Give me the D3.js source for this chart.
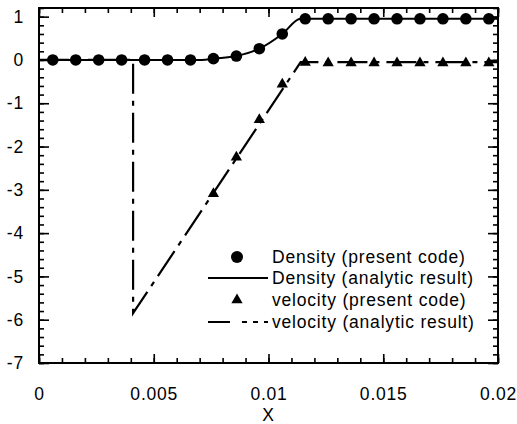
<!DOCTYPE html>
<html>
<head>
<meta charset="utf-8">
<script src="https://cdn.jsdelivr.net/npm/d3@7"></script>
<style>
html,body{margin:0;padding:0;background:#fff;}
svg text{font-family:"Liberation Sans",Arial,Helvetica,sans-serif;font-size:17.5px;letter-spacing:0.8px;fill:#000;}
</style>
</head>
<body>
<svg id="chart" width="517" height="424"></svg>
<script>
// ---- data ----
const xTicks = [0, 0.005, 0.01, 0.015, 0.02];
const xTickLabels = ["0", "0.005", "0.01", "0.015", "0.02"];
const yTicks = [1, 0, -1, -2, -3, -4, -5, -6, -7];
const yTickLabels = ["1", "0", "-1", "-2", "-3", "-4", "-5", "-6", "-7"];
const xLabel = "X";

// Density (present code)
const densX = [0.0006,0.0016,0.0026,0.0036,0.0046,0.0056,0.0066,0.0076,0.0086,0.0096,
               0.0106,0.0116,0.0126,0.0136,0.0146,0.0156,0.0166,0.0176,0.0186,0.0196];
const densY = [0,0,0,0,0,0,0,0.03,0.09,0.26,0.6,0.95,0.95,0.95,0.95,0.95,0.95,0.95,0.95,0.95];

// Density (analytic result)
const densAnX = [0, 0.0071, 0.0076, 0.0086, 0.0096, 0.0106, 0.0114, 0.02];
const densAnY = [0, 0, 0.03, 0.09, 0.26, 0.6, 0.95, 0.95];

// velocity (present code)
const velX = [0.0076,0.0086,0.0096,0.0106,0.0116,0.0126,0.0136,0.0146,0.0156,0.0166,0.0176,0.0186,0.0196];
const velY = [-3.09,-2.25,-1.38,-0.56,-0.06,-0.07,-0.07,-0.07,-0.07,-0.07,-0.07,-0.07,-0.07];

// velocity (analytic result)
const velAnX = [0, 0.0041, 0.0041, 0.0114, 0.02];
const velAnY = [0, 0, -5.85, -0.05, -0.05];

const legendLabels = ["Density (present code)", "Density (analytic result)",
                      "velocity (present code)", "velocity (analytic result)"];

// ---- layout ----
const L = 39, R = 498, T = 8, B = 363;
const svg = d3.select("#chart");
const x = d3.scaleLinear().domain([0, 0.02]).range([L, R]);
const y = d3.scaleLinear().domain([-7, 1.2]).range([B, T]);

const xMinor = d3.range(0, 21).map(i => i * 0.001);
const yMinor = d3.range(-35, 7).map(i => i * 0.2);

function styleAxis(g){
  g.select(".domain").remove();
  g.selectAll("line").attr("stroke", "#000").attr("stroke-width", 1.6);
}

// minor ticks
svg.append("g").attr("transform", `translate(0,${B})`)
  .call(d3.axisBottom(x).tickValues(xMinor).tickSize(-5).tickFormat(""))
  .call(styleAxis);
svg.append("g").attr("transform", `translate(0,${T})`)
  .call(d3.axisTop(x).tickValues(xMinor).tickSize(-5).tickFormat(""))
  .call(styleAxis);
svg.append("g").attr("transform", `translate(${L},0)`)
  .call(d3.axisLeft(y).tickValues(yMinor).tickSize(-5).tickFormat(""))
  .call(styleAxis);
svg.append("g").attr("transform", `translate(${R},0)`)
  .call(d3.axisRight(y).tickValues(yMinor).tickSize(-5).tickFormat(""))
  .call(styleAxis);

// major ticks
svg.append("g").attr("transform", `translate(0,${B})`)
  .call(d3.axisBottom(x).tickValues(xTicks).tickSize(-9).tickPadding(25)
        .tickFormat((d, i) => xTickLabels[i]))
  .call(styleAxis);
svg.append("g").attr("transform", `translate(0,${T})`)
  .call(d3.axisTop(x).tickValues(xTicks).tickSize(-9).tickFormat(""))
  .call(styleAxis);
svg.append("g").attr("transform", `translate(${L},0)`)
  .call(d3.axisLeft(y).tickValues(yTicks).tickSize(-10).tickPadding(15)
        .tickFormat((d, i) => yTickLabels[i]))
  .call(styleAxis);
svg.append("g").attr("transform", `translate(${R},0)`)
  .call(d3.axisRight(y).tickValues(yTicks).tickSize(-10).tickFormat(""))
  .call(styleAxis);

svg.selectAll("g").attr("font-size", null).attr("font-family", null);
svg.selectAll("g text").attr("fill", "#000");

// frame
svg.append("rect").attr("x", L).attr("y", T).attr("width", R - L).attr("height", B - T)
  .attr("fill", "none").attr("stroke", "#000").attr("stroke-width", 2);

// x label
svg.append("text").attr("x", x(0.01)).attr("y", 421).attr("text-anchor", "middle").text(xLabel);

// lines
const line = d3.line().x(d => x(d[0])).y(d => y(d[1]));
svg.append("path")
  .attr("d", d3.line().x(d => x(d[0])).y(d => y(d[1])).curve(d3.curveMonotoneX)(densAnX.map((v, i) => [v, densAnY[i]])))
  .attr("fill", "none").attr("stroke", "#000").attr("stroke-width", 2);
svg.append("path")
  .attr("d", line(velAnX.map((v, i) => [v, velAnY[i]])))
  .attr("fill", "none").attr("stroke", "#000").attr("stroke-width", 2.2)
  .attr("stroke-dasharray", "30,7,5,7");

// markers
svg.append("g").selectAll("circle").data(densX).join("circle")
  .attr("cx", d => x(d)).attr("cy", (d, i) => y(densY[i])).attr("r", 5.8).attr("fill", "#000");
const tri = d3.symbol().type(d3.symbolTriangle).size(55);
svg.append("g").selectAll("path").data(velX).join("path")
  .attr("transform", (d, i) => `translate(${x(d)},${y(velY[i])})`)
  .attr("d", tri).attr("fill", "#000");

// legend
const lgX0 = 208, lgX1 = 268, lgMid = 237, lgText = 272;
const lgY = [257, 278, 300, 322];
svg.append("circle").attr("cx", lgMid).attr("cy", lgY[0]).attr("r", 6).attr("fill", "#000");
svg.append("line").attr("x1", lgX0).attr("x2", lgX1).attr("y1", lgY[1]).attr("y2", lgY[1])
  .attr("stroke", "#000").attr("stroke-width", 2);
svg.append("path").attr("transform", `translate(${lgMid},${lgY[2]})`).attr("d", tri).attr("fill", "#000");
svg.append("line").attr("x1", lgX0).attr("x2", lgX1).attr("y1", lgY[3]).attr("y2", lgY[3])
  .attr("stroke", "#000").attr("stroke-width", 2).attr("stroke-dasharray", "22,12,5,6,5,6");
svg.append("g").selectAll("text").data(legendLabels).join("text")
  .attr("x", lgText).attr("y", (d, i) => lgY[i] + 6).text(d => d);
</script>
</body>
</html>
